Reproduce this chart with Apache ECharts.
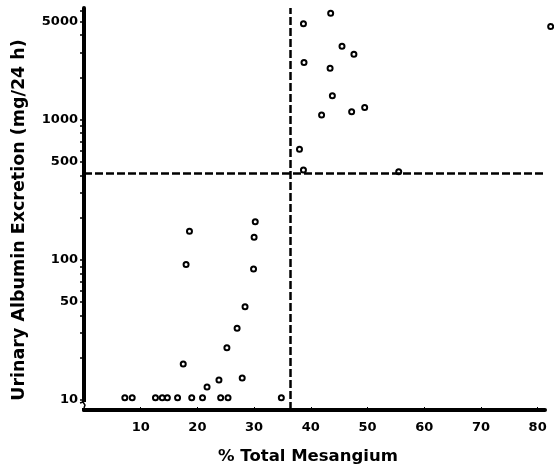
<!DOCTYPE html>
<html>
<head>
<meta charset="utf-8">
<script src="https://cdn.jsdelivr.net/npm/echarts@6/dist/echarts.min.js"></script>
<style>
  html, body { margin: 0; padding: 0; background: #fff; }
  #main { width: 554px; height: 470px; }
</style>
</head>
<body>
<div id="main"></div>
<script>
// % total mesangium vs urinary albumin excretion (mg/24 h)
var mesangium = [7.2, 8.5, 12.6, 13.8, 14.7, 16.5, 19.0, 20.9, 24.1, 25.4, 34.8,
                 21.7, 23.8, 27.9, 17.5, 25.2, 27.0, 28.4, 29.9, 18.0, 30.0, 18.6, 30.2,
                 38.0, 38.7, 55.5, 41.9, 47.2, 49.5, 43.8, 43.4, 38.8, 47.6, 45.5, 38.7, 43.5, 82.3];
var albumin = [10.4, 10.4, 10.4, 10.4, 10.4, 10.4, 10.4, 10.4, 10.4, 10.4, 10.4,
               12.4, 13.9, 14.4, 18.1, 23.6, 32.5, 46.4, 86, 92.7, 145, 160, 187,
               615, 438, 425, 1080, 1140, 1220, 1480, 2320, 2550, 2920, 3340, 4820, 5730, 4610];

var xLabels = [10, 20, 30, 40, 50, 60, 70, 80];
var yLabels = [10, 50, 100, 500, 1000, 5000];
var yTicks = [10, 20, 30, 40, 50, 60, 70, 80, 90,
              100, 200, 300, 400, 500, 600, 700, 800, 900,
              1000, 2000, 3000, 4000, 5000, 6000];
var cutoffX = 36.4;   // vertical dashed line
var cutoffY = 420;    // horizontal dashed line

var yMin = 8.5, yMax = 6250;

var points = [];
for (var i = 0; i < mesangium.length; i++) {
    points.push([mesangium[i], Math.log10(albumin[i])]);
}

var chart = echarts.init(document.getElementById('main'));

var fontFam = 'DejaVu Sans';

var option = {
    backgroundColor: '#fff',
    animation: false,
    grid: {
        left: 84,
        right: 9,
        top: 8,
        bottom: 55
    },
    xAxis: {
        type: 'value',
        min: 0,
        max: 81.3,
        name: '% Total Mesangium',
        nameLocation: 'middle',
        nameGap: 38,
        nameTextStyle: { color: '#000', fontFamily: fontFam, fontWeight: 'bold', fontSize: 16.5,
                         padding: [0, 13, 0, 0] },
        axisLine: { lineStyle: { color: '#000', width: 4 } },
        axisTick: { inside: true, length: 3, lineStyle: { color: '#000', width: 1 },
                    customValues: xLabels },
        axisLabel: { color: '#000', fontFamily: fontFam, fontWeight: 'bold', fontSize: 13,
                     margin: 11, customValues: xLabels },
        splitLine: { show: false }
    },
    yAxis: {
        type: 'value',
        min: Math.log10(yMin),
        max: Math.log10(yMax),
        name: 'Urinary Albumin Excretion (mg/24 h)',
        nameLocation: 'middle',
        nameGap: 56,
        nameTextStyle: { color: '#000', fontFamily: fontFam, fontWeight: 'bold', fontSize: 17.5,
                         padding: [0, 22, 0, 0] },
        axisLine: { lineStyle: { color: '#000', width: 4 } },
        axisTick: { length: 4, lineStyle: { color: '#000', width: 1.5 },
                    customValues: yTicks.map(function (v) { return Math.log10(v); }) },
        axisLabel: {
            color: '#000', fontFamily: fontFam, fontWeight: 'bold', fontSize: 13, margin: 6,
            customValues: yLabels.map(function (v) { return Math.log10(v); }),
            formatter: function (v) { return String(Math.round(Math.pow(10, v))); }
        },
        splitLine: { show: false }
    },
    // small axis-break mark on the y axis just above the origin
    graphic: [
        { type: 'rect', shape: { x: 81, y: 402, width: 7, height: 6 },
          style: { fill: '#fff' }, z: 100 },
        { type: 'polyline', shape: { points: [[80, 403], [83, 402], [85, 405], [84, 408]] },
          style: { stroke: '#000', lineWidth: 1.5, fill: null }, z: 101 }
    ],
    series: [
        {
            type: 'scatter',
            clip: false,
            symbol: 'circle',
            symbolSize: 5,
            itemStyle: { color: '#fff', borderColor: '#000', borderWidth: 2, opacity: 1 },
            data: points,
            markLine: {
                silent: true,
                symbol: 'none',
                label: { show: false },
                lineStyle: { color: '#000', width: 2.5, type: [8, 3] },
                data: [
                    { xAxis: cutoffX },
                    { yAxis: Math.log10(cutoffY) }
                ]
            }
        }
    ]
};

chart.setOption(option);
</script>
</body>
</html>
